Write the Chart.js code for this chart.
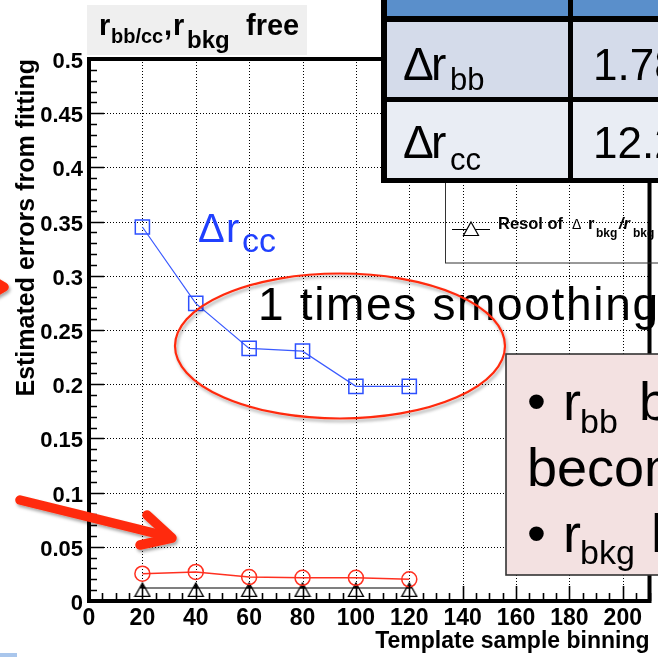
<!DOCTYPE html>
<html><head><meta charset="utf-8">
<script src="https://cdn.jsdelivr.net/npm/chart.js@4.4.1/dist/chart.umd.min.js"></script>
<style>
html,body{margin:0;padding:0;background:#fff;overflow:hidden;}
#wrap{position:relative;width:658px;height:657px;overflow:hidden;background:#fff;}
#c{position:absolute;left:0;top:0;}
#ov{position:absolute;left:0;top:0;}
</style></head><body>
<div id="wrap">
<canvas id="c" width="661" height="657" style="width:661px;height:657px"></canvas>
<svg id="ov" width="658" height="657" viewBox="0 0 658 657" font-family="'Liberation Sans', Arial, Helvetica, sans-serif">
<defs>
<filter id="sh" x="-30%" y="-30%" width="160%" height="160%">
<feDropShadow dx="1.5" dy="2.5" stdDeviation="1.8" flood-color="#000" flood-opacity="0.35"/>
</filter>
</defs>
<!-- ROOT title box -->
<rect x="87" y="5" width="220" height="50" fill="#efefef"/>
<text font-weight="bold" fill="#000" font-size="29"><tspan x="99" y="35">r</tspan><tspan x="111" y="43" font-size="20">bb/cc</tspan><tspan x="164" y="35">,</tspan><tspan x="173" y="35">r</tspan><tspan x="187" y="48" font-size="24">bkg</tspan><tspan x="246" y="35" font-size="29">free</tspan></text>

<!-- legend box (transparent) -->
<rect x="445.5" y="170" width="260" height="93" fill="none" stroke="#333" stroke-width="1"/>
<line x1="452" y1="229.5" x2="490" y2="229.5" stroke="#000" stroke-width="1.2"/>
<path d="M471 222 L478.5 235.5 L463.5 235.5 Z" fill="#fff" stroke="#000" stroke-width="1.2"/>
<text fill="#000" font-size="16.5" font-weight="bold"><tspan x="498" y="229">Resol of</tspan><tspan x="572" y="229" font-size="14" font-weight="normal">Δ</tspan><tspan x="588" y="229">r</tspan><tspan x="596" y="237" font-size="12">bkg</tspan><tspan x="619" y="229" font-style="italic">/r</tspan><tspan x="633" y="237" font-size="12">bkg</tspan></text>

<!-- table -->
<rect x="381" y="-6" width="290" height="189" fill="#000"/>
<rect x="387" y="-6" width="181" height="22" fill="#5a8fcb"/>
<rect x="573" y="-6" width="100" height="22" fill="#5a8fcb"/>
<rect x="387" y="22" width="181" height="75" fill="#d4dbea"/>
<rect x="573" y="22" width="100" height="75" fill="#d4dbea"/>
<rect x="387" y="102" width="181" height="76" fill="#e9edf4"/>
<rect x="573" y="102" width="100" height="76" fill="#e9edf4"/>
<text fill="#000" font-size="46"><tspan x="403" y="80">Δ</tspan><tspan x="431" y="80">r</tspan><tspan x="450" y="90" font-size="31">bb</tspan></text>
<text fill="#000" font-size="44" x="593" y="80">1.78</text>
<text fill="#000" font-size="46"><tspan x="403" y="158">Δ</tspan><tspan x="431" y="158">r</tspan><tspan x="450" y="170" font-size="31">cc</tspan></text>
<text fill="#000" font-size="44" x="593" y="158">12.2</text>

<!-- blue annotation -->
<text fill="#2040ff" font-size="40"><tspan x="198" y="242">Δ</tspan><tspan x="226" y="242">r</tspan><tspan x="242" y="252" font-size="34">cc</tspan></text>

<!-- smoothing text -->
<text x="258" y="320" font-size="46" fill="#000" textLength="400" lengthAdjust="spacing">1 times smoothing</text>

<!-- ellipse -->
<ellipse cx="340" cy="346" rx="165" ry="72.5" fill="none" stroke="#ff2a10" stroke-width="2.2" filter="url(#sh)"/>

<!-- pink box -->
<rect x="506" y="354" width="200" height="221" fill="#f3e1e1" stroke="#333" stroke-width="1.6"/>
<g fill="#000" font-size="54">
<text><tspan x="527" y="420">•</tspan><tspan x="563" y="420">r</tspan><tspan x="580" y="433" font-size="34">bb</tspan><tspan x="639" y="420">bias</tspan></text>
<text x="527" y="486">becomes</text>
<text><tspan x="527" y="552">•</tspan><tspan x="563" y="552">r</tspan><tspan x="580" y="564" font-size="34">bkg</tspan><tspan x="651" y="552">has</tspan></text>
</g>

<!-- arrows -->
<g filter="url(#sh)" stroke="#ff2a0a" stroke-width="9.5" fill="none" stroke-linejoin="round" stroke-linecap="round">
<line x1="20" y1="500" x2="170" y2="537"/>
<polyline points="147,515 172,538 140,545"/>
<polyline points="-22,272 4,287 -22,302"/>
</g>
<rect x="0" y="653" width="17" height="4" fill="#a9c6ec"/>
</svg>
</div>
<script>
// ---- data ----
const binning = [20, 40, 60, 80, 100, 120];
const errRcc  = [0.345, 0.2745, 0.233, 0.2305, 0.198, 0.198];
const errRbb  = [0.0252, 0.0268, 0.0221, 0.0214, 0.0214, 0.0200];
const errRbkg = [0.012, 0.012, 0.012, 0.012, 0.012, 0.012];
const xTickValues = [0, 20, 40, 60, 80, 100, 120, 140, 160, 180, 200];
const xTickLabels = ['0', '20', '40', '60', '80', '100', '120', '140', '160', '180', '200'];
const yTickValues = [0, 0.05, 0.1, 0.15, 0.2, 0.25, 0.3, 0.35, 0.4, 0.45, 0.5];
const yTickLabels = ['0', '0.05', '0.1', '0.15', '0.2', '0.25', '0.3', '0.35', '0.4', '0.45', '0.5'];
const X_MIN = 0, X_MAX = 210, Y_MIN = 0, Y_MAX = 0.5;
const X_MINOR = 5, Y_MINOR = 0.01;

Chart.defaults.font.family = "'Liberation Sans', Arial, Helvetica, sans-serif";
Chart.defaults.color = '#000';

function triangleMarker() {
  const c = document.createElement('canvas');
  c.width = 18; c.height = 30;
  const g = c.getContext('2d');
  g.strokeStyle = '#000'; g.lineWidth = 1.3;
  g.beginPath(); g.moveTo(9, 10); g.lineTo(16.5, 23.4); g.lineTo(1.5, 23.4); g.closePath(); g.stroke();
  g.fillStyle = '#000';
  g.beginPath(); g.moveTo(9, 10); g.lineTo(11.4, 15.5); g.lineTo(6.6, 15.5); g.closePath(); g.fill();
  return c;
}

const rootFrame = {
  id: 'rootFrame',
  beforeDraw(chart) {
    const ctx = chart.ctx; ctx.save(); ctx.fillStyle = '#fff'; ctx.fillRect(0, 0, chart.width, chart.height); ctx.restore();
  },
  beforeDatasetsDraw(chart) {
    const {ctx, chartArea: a, scales: {x, y}} = chart;
    ctx.save(); ctx.strokeStyle = '#000'; ctx.lineWidth = 1; ctx.setLineDash([1, 2]);
    ctx.beginPath();
    xTickValues.forEach(v => { if (v <= X_MIN || v >= X_MAX) return; const p = Math.round(x.getPixelForValue(v)) + 0.5; ctx.moveTo(p, a.top); ctx.lineTo(p, a.bottom); });
    yTickValues.forEach(v => { if (v <= Y_MIN || v >= Y_MAX) return; const p = Math.round(y.getPixelForValue(v)) + 0.5; ctx.moveTo(a.left, p); ctx.lineTo(a.right, p); });
    ctx.stroke(); ctx.restore();
  },
  afterDatasetsDraw(chart) {
    const {ctx, chartArea: a, scales: {x, y}} = chart;
    ctx.save(); ctx.strokeStyle = '#000'; ctx.lineWidth = 1.6; ctx.beginPath();
    const nx = Math.round((X_MAX - X_MIN) / X_MINOR);
    for (let i = 0; i <= nx; i++) {
      const v = X_MIN + i * X_MINOR;
      const major = xTickValues.some(t => Math.abs(t - v) < 1e-9);
      const p = Math.round(x.getPixelForValue(v)) + 0.5;
      ctx.moveTo(p, a.bottom); ctx.lineTo(p, a.bottom - (major ? 15 : 8));
    }
    const ny = Math.round((Y_MAX - Y_MIN) / Y_MINOR);
    for (let i = 0; i <= ny; i++) {
      const v = Y_MIN + i * Y_MINOR;
      const major = yTickValues.some(t => Math.abs(t - v) < 1e-9);
      const p = Math.round(y.getPixelForValue(v)) + 0.5;
      ctx.moveTo(a.left, p); ctx.lineTo(a.left + (major ? 15 : 8), p);
    }
    ctx.stroke();
    ctx.lineWidth = 4;
    ctx.strokeRect(a.left, a.top, a.right - a.left, a.bottom - a.top);
    ctx.restore();
  }
};

new Chart(document.getElementById('c'), {
  type: 'scatter',
  data: {
    datasets: [
      { label: 'Δr_cc', data: binning.map((b, i) => ({x: b, y: errRcc[i]})), showLine: true, tension: 0,
        borderColor: '#3a5aff', borderWidth: 1.2, pointStyle: 'rect', pointRadius: 10,
        pointBorderColor: '#2d50ff', pointBorderWidth: 1.5, pointBackgroundColor: 'rgba(0,0,0,0)', clip: false },
      { label: 'Δr_bb', data: binning.map((b, i) => ({x: b, y: errRbb[i]})), showLine: true, tension: 0,
        borderColor: '#ff3020', borderWidth: 1.5, pointStyle: 'circle', pointRadius: 7.5,
        pointBorderColor: '#ff3020', pointBorderWidth: 1.5, pointBackgroundColor: 'rgba(0,0,0,0)', clip: false },
      { label: 'Resol of Δr_bkg/r_bkg', data: binning.map((b, i) => ({x: b, y: errRbkg[i]})), showLine: true, tension: 0,
        borderColor: '#000', borderWidth: 1.2, pointStyle: triangleMarker(), pointRadius: 9, clip: false }
    ]
  },
  options: {
    responsive: false, animation: false, devicePixelRatio: 1, events: [],
    layout: {padding: {top: 59, left: 0, right: 0, bottom: 0}},
    plugins: {legend: {display: false}, tooltip: {enabled: false}},
    scales: {
      x: {
        type: 'linear', position: 'bottom', min: X_MIN, max: X_MAX,
        afterBuildTicks: s => { s.ticks = xTickValues.map(v => ({value: v})); },
        afterFit: s => { s.height = 56; },
        grid: {display: false, drawTicks: false}, border: {display: false},
        ticks: {autoSkip: false, maxRotation: 0, minRotation: 0, padding: 4, color: '#000',
          font: {size: 23, weight: 'bold'}, callback: (v, i) => xTickLabels[i]},
        title: {display: true, text: 'Template sample binning', align: 'end', color: '#000',
          font: {size: 23, weight: 'bold'}, padding: {top: 0, bottom: 2}}
      },
      y: {
        type: 'linear', position: 'left', min: Y_MIN, max: Y_MAX,
        afterBuildTicks: s => { s.ticks = yTickValues.map(v => ({value: v})); },
        afterFit: s => { s.width = 89; },
        grid: {display: false, drawTicks: false}, border: {display: false},
        ticks: {autoSkip: false, padding: 6, labelOffset: 3, color: '#000',
          font: {size: 22, weight: 'bold'}, callback: (v, i) => yTickLabels[i]},
        title: {display: true, text: 'Estimated errors from fitting', align: 'end', color: '#000',
          font: {size: 25, weight: 'bold'}, padding: {top: 12, bottom: 0}}
      }
    }
  },
  plugins: [rootFrame]
});
</script>
</body></html>
